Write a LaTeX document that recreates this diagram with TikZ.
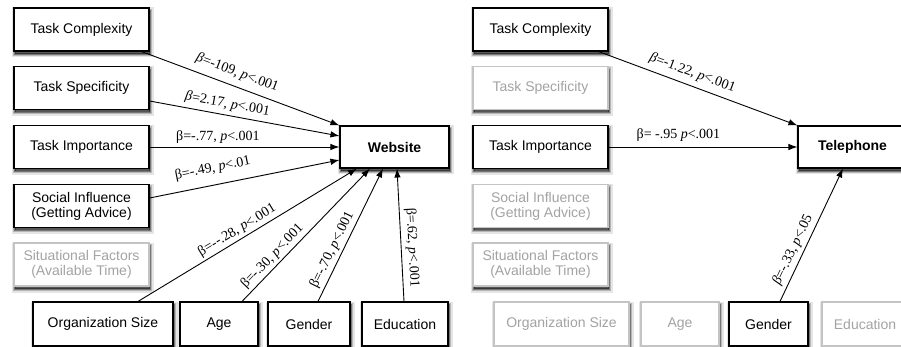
\documentclass[tikz,border=0pt]{standalone}
\usepackage{fontspec}
\setmainfont{Liberation Sans}
\newfontfamily\lblfont{Liberation Serif}
\usetikzlibrary{arrows.meta,shadows}
\definecolor{fadeline}{HTML}{C4C4C4}
\definecolor{fadetext}{HTML}{A3A3A3}
\begin{document}
\begin{tikzpicture}[x=1pt,y=-1pt,
  shad/.style={
    general shadow={fill=black, draw=black, line width=7pt, opacity=0.10, shadow xshift=1pt, shadow yshift=-3pt},
    general shadow={fill=black, draw=black, line width=4pt, opacity=0.20, shadow xshift=1pt, shadow yshift=-3pt},
    general shadow={fill=black, draw=black, line width=1.5pt, opacity=0.35, shadow xshift=1pt, shadow yshift=-3pt}},
  box/.style={shad, draw=black, line width=1.1pt, fill=white, minimum width=135pt, minimum height=43pt,
    inner sep=0pt, align=center, font=\fontsize{14}{15}\selectfont},
  faded/.style={box, draw=fadeline, text=fadetext},
  bot/.style={minimum height=44pt},
  arr/.style={-{Latex[length=9pt,width=6.5pt]}, line width=0.9pt},
  lbl/.style={font=\lblfont\fontsize{14}{16}\selectfont, sloped, inner sep=0pt, above}]
\clip (0,0) rectangle (901,347);
% ---------- left panel ----------
\node[box] (lTC) at (81.5,29.5) {Task Complexity};
\node[box] (lTS) at (81.5,88) {Task Specificity};
\node[box] (lTI) at (81.5,147) {Task Importance};
\node[box] (lSI) at (81.5,206) {Social Influence\\(Getting Advice)};
\node[faded] (lSF) at (81.5,264.5) {Situational Factors\\(Available Time)};
\node[box, bot, minimum width=140pt] (lOS) at (103,324) {Organization Size};
\node[box, bot, minimum width=78pt] (lAge) at (219,324) {Age};
\node[box, bot, minimum width=82pt] (lGen) at (309,324) {Gender};
\node[box, bot, minimum width=86pt] (lEdu) at (405,324) {Education};
\node[box, minimum width=109pt, minimum height=42pt] (web) at (394.5,147) {\bfseries Website};
% ---------- right panel ----------
\node[box] (rTC) at (540.5,29.5) {Task Complexity};
\node[faded] (rTS) at (540.5,88) {Task Specificity};
\node[box] (rTI) at (540.5,147) {Task Importance};
\node[faded] (rSI) at (540.5,206) {Social Influence\\(Getting Advice)};
\node[faded] (rSF) at (540.5,264.5) {Situational Factors\\(Available Time)};
\node[faded, bot, minimum width=135pt] (rOS) at (561.5,324) {Organization Size};
\node[faded, bot, minimum width=78pt] (rAge) at (680,324) {Age};
\node[box, bot, minimum width=79pt] (rGen) at (768.5,324) {Gender};
\node[faded, bot, minimum width=86pt] (rEdu) at (865,324) {Education};
\node[box, minimum width=109pt, minimum height=42pt] (tel) at (852.5,147) {\bfseries Telephone};
% ---------- left connectors ----------
\draw[arr] ([xshift=-8pt]lTC.south east) -- (web.north west)
  node[lbl, pos=0.46, outer sep=7pt] {\textit{β}=-109, \textit{p}<.001};
\draw[arr] ([yshift=-13pt]lTS.east) -- ([yshift=11pt]web.west)
  node[lbl, pos=0.40, outer sep=4.5pt] {\textit{β}=2.17, \textit{p}<.001};
\draw[arr] (lTI.east) -- (web.west)
  node[lbl, pos=0.36, outer sep=3.5pt] {β=-.77, \textit{p}<.001};
\draw[arr] ([yshift=8pt]lSI.east) -- ([yshift=-13pt]web.west)
  node[lbl, pos=0.35, outer sep=10pt] {β=-.49, \textit{p}<.01};
\draw[arr] ([xshift=35pt]lOS.north) -- ([xshift=-37.5pt]web.south)
  node[lbl, pos=0.475, outer sep=3pt] {β=-{}-.28, \textit{p}<.001};
\draw[arr] ([xshift=23pt]lAge.north) -- ([xshift=-24.5pt]web.south)
  node[lbl, pos=0.29, outer sep=3pt] {β=-.30, \textit{p}<.001};
\draw[arr] ([xshift=9pt]lGen.north) -- ([xshift=-11.5pt]web.south)
  node[lbl, pos=0.355, outer sep=3.5pt] {β=-.70, \textit{p}<.001};
\draw[arr] ([xshift=-1pt]lEdu.north) -- ([xshift=2.5pt]web.south)
  node[lbl, pos=0.40, outer sep=4.5pt] {β=.62, \textit{p}<.001};
% ---------- right connectors ----------
\draw[arr] ([xshift=-10pt]rTC.south east) -- (tel.north west)
  node[lbl, pos=0.45, outer sep=6pt] {\textit{β}=-1.22, \textit{p}<.001};
\draw[arr] (rTI.east) -- (tel.west)
  node[lbl, pos=0.37, outer sep=5.5pt] {β= -.95 \textit{p}<.001};
\draw[arr] ([xshift=11.5pt]rGen.north) -- ([xshift=-9.5pt]tel.south)
  node[lbl, pos=0.355, outer sep=4pt] {\textit{β}=-.33, \textit{p}<.05};
\end{tikzpicture}
\end{document}
